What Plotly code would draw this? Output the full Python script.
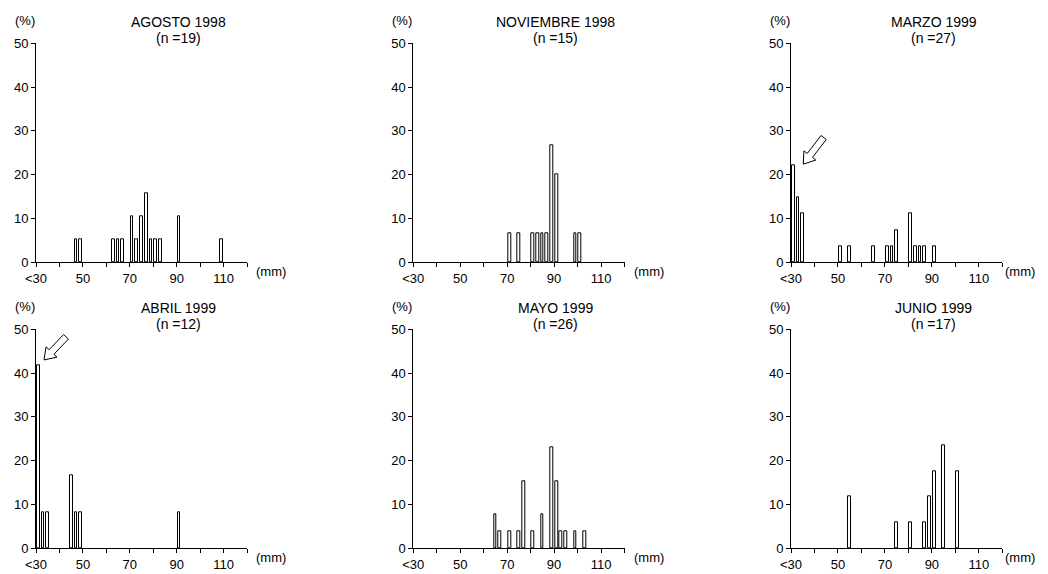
import math
import plotly.graph_objects as go

# ---- data (bin centre in mm, % of sample) ----
titles = ["AGOSTO 1998", "NOVIEMBRE 1998", "MARZO 1999", "ABRIL 1999", "MAYO 1999", "JUNIO 1999"]
n_values = [19, 15, 27, 12, 26, 17]

agosto_mm = [47, 49, 63, 65, 67, 71, 73, 75, 77, 79, 81, 83, 91, 109]
agosto_pct = [5.3, 5.3, 5.3, 5.3, 5.3, 10.5, 5.3, 10.5, 15.8, 5.3, 5.3, 5.3, 10.5, 5.3]

noviembre_mm = [71, 75, 81, 83, 85, 87, 89, 91, 99, 101]
noviembre_pct = [6.7, 6.7, 6.7, 6.7, 6.7, 6.7, 26.7, 20.0, 6.7, 6.7]

marzo_mm = [31, 33, 35, 51, 55, 65, 71, 73, 75, 81, 83, 85, 87, 91]
marzo_pct = [22.2, 14.8, 11.1, 3.7, 3.7, 3.7, 3.7, 3.7, 7.4, 11.1, 3.7, 3.7, 3.7, 3.7]

abril_mm = [31, 33, 35, 45, 47, 49, 91]
abril_pct = [41.7, 8.3, 8.3, 16.7, 8.3, 8.3, 8.3]

mayo_mm = [65, 67, 71, 75, 77, 81, 85, 89, 91, 93, 95, 99, 103]
mayo_pct = [7.7, 3.8, 3.8, 3.8, 15.4, 3.8, 7.7, 23.1, 15.4, 3.8, 3.8, 3.8, 3.8]

junio_mm = [55, 75, 81, 87, 89, 91, 95, 101]
junio_pct = [11.8, 5.9, 5.9, 5.9, 11.8, 17.6, 23.5, 17.6]

x_tickvals = [30, 40, 50, 60, 70, 80, 90, 100, 110, 120]
x_ticktext = ["<30", "", "50", "", "70", "", "90", "", "110", ""]
y_tickvals = [0, 10, 20, 30, 40, 50]

series = [(agosto_mm, agosto_pct), (noviembre_mm, noviembre_pct), (marzo_mm, marzo_pct),
          (abril_mm, abril_pct), (mayo_mm, mayo_pct), (junio_mm, junio_pct)]

# arrows (panel index, tip (mm, %), tail (mm, %))
arrows = [(2, (35.2, 22.4), (43.9, 28.5)), (3, (33.4, 43.0), (42.8, 48.3))]

# ---- layout geometry (pixels in the page; the page body has an 8 px margin) ----
OFF = 8
W, H = 1048 - OFF, 574 - OFF
col_px = [(36 - OFF, 247 - OFF), (413.3 - OFF, 624.5 - OFF), (791 - OFF, 1002.3 - OFF)]
row_px = [(43.3 - OFF, 262.3 - OFF), (329.3 - OFF, 548.3 - OFF)]
FONT = "Arial, Liberation Sans, sans-serif"

fig = go.Figure()
annotations = []
shapes = []

for i, ((xs, ys), title, n) in enumerate(zip(series, titles, n_values)):
    r, c = divmod(i, 3)
    ax = "" if i == 0 else str(i + 1)
    x0p, x1p = col_px[c]
    y0p, y1p = row_px[r]
    fig.add_trace(go.Bar(
        x=xs, y=ys, width=1.15,
        marker=dict(color="white", line=dict(color="black", width=1)),
        xaxis="x" + ax, yaxis="y" + ax, showlegend=False, hoverinfo="x+y"))
    fig.layout["xaxis" + ax] = dict(
        domain=[x0p / W, x1p / W], range=[30, 120], anchor="y" + ax, automargin=False,
        tickvals=x_tickvals, ticktext=x_ticktext, ticks="outside", ticklen=4,
        tickcolor="black", showline=True, linecolor="black", linewidth=1,
        showgrid=False, zeroline=False, tickfont=dict(size=13, color="black", family=FONT),
        fixedrange=True)
    fig.layout["yaxis" + ax] = dict(
        domain=[1 - y1p / H, 1 - y0p / H], range=[0, 50], anchor="x" + ax, automargin=False,
        tickvals=y_tickvals, ticks="outside", ticklen=4, tickcolor="black",
        showline=True, linecolor="black", linewidth=1, showgrid=False, zeroline=False,
        tickfont=dict(size=13, color="black", family=FONT), fixedrange=True)
    # title (two lines)
    annotations.append(dict(
        text=title, xref="x" + ax, x=90.8, yref="paper",
        y=1 - (y0p - 21.5) / H, yanchor="middle", xanchor="center", showarrow=False,
        font=dict(size=14, color="black", family=FONT)))
    annotations.append(dict(
        text=f"(n ={n})", xref="x" + ax, x=90.8, yref="paper",
        y=1 - (y0p - 5) / H, yanchor="middle", xanchor="center", showarrow=False,
        font=dict(size=14, color="black", family=FONT)))
    # (%) label
    annotations.append(dict(
        text="(%)", xref="paper", x=(x0p - 11) / W, yref="paper",
        y=1 - (y0p - 23) / H, xanchor="center", yanchor="middle", showarrow=False,
        font=dict(size=13, color="black", family=FONT)))
    # (mm) label (kept inside the visible page on the right column)
    mm_right = min(x1p + 41, 1037 - OFF)
    annotations.append(dict(
        text="(mm)", xref="paper", x=mm_right / W, yref="paper",
        y=1 - (y1p + 9.5) / H, xanchor="right", yanchor="middle", showarrow=False,
        font=dict(size=13, color="black", family=FONT)))

# hollow block arrows
for (i, tip, tail) in arrows:
    r, c = divmod(i, 3)
    ax = "" if i == 0 else str(i + 1)
    x0p, x1p = col_px[c]
    y0p, y1p = row_px[r]
    sx = (x1p - x0p) / 90.0   # px per mm
    sy = (y1p - y0p) / 50.0   # px per %
    tx, ty = tip[0] * sx, -tip[1] * sy
    bx, by = tail[0] * sx, -tail[1] * sy
    L = math.hypot(tx - bx, ty - by)
    ux, uy = (tx - bx) / L, (ty - by) / L
    px_, py_ = -uy, ux
    shaft, head, headlen = 3.3, 7.5, 11.0
    hx, hy = tx - ux * headlen, ty - uy * headlen
    pts = [
        (bx + px_ * shaft, by + py_ * shaft),
        (hx + px_ * shaft, hy + py_ * shaft),
        (hx + px_ * head, hy + py_ * head),
        (tx, ty),
        (hx - px_ * head, hy - py_ * head),
        (hx - px_ * shaft, hy - py_ * shaft),
        (bx - px_ * shaft, by - py_ * shaft),
    ]
    d = "M " + " L ".join(f"{p[0] / sx:.3f},{-p[1] / sy:.3f}" for p in pts) + " Z"
    shapes.append(dict(type="path", path=d, xref="x" + ax, yref="y" + ax,
                       line=dict(color="black", width=1), fillcolor="white"))

fig.update_layout(
    width=W, height=H, margin=dict(l=0, r=0, t=0, b=0, autoexpand=False),
    paper_bgcolor="white", plot_bgcolor="white",
    annotations=annotations, shapes=shapes, bargap=0,
    font=dict(family=FONT, size=12, color="black"))

fig.write_html("out.html")
